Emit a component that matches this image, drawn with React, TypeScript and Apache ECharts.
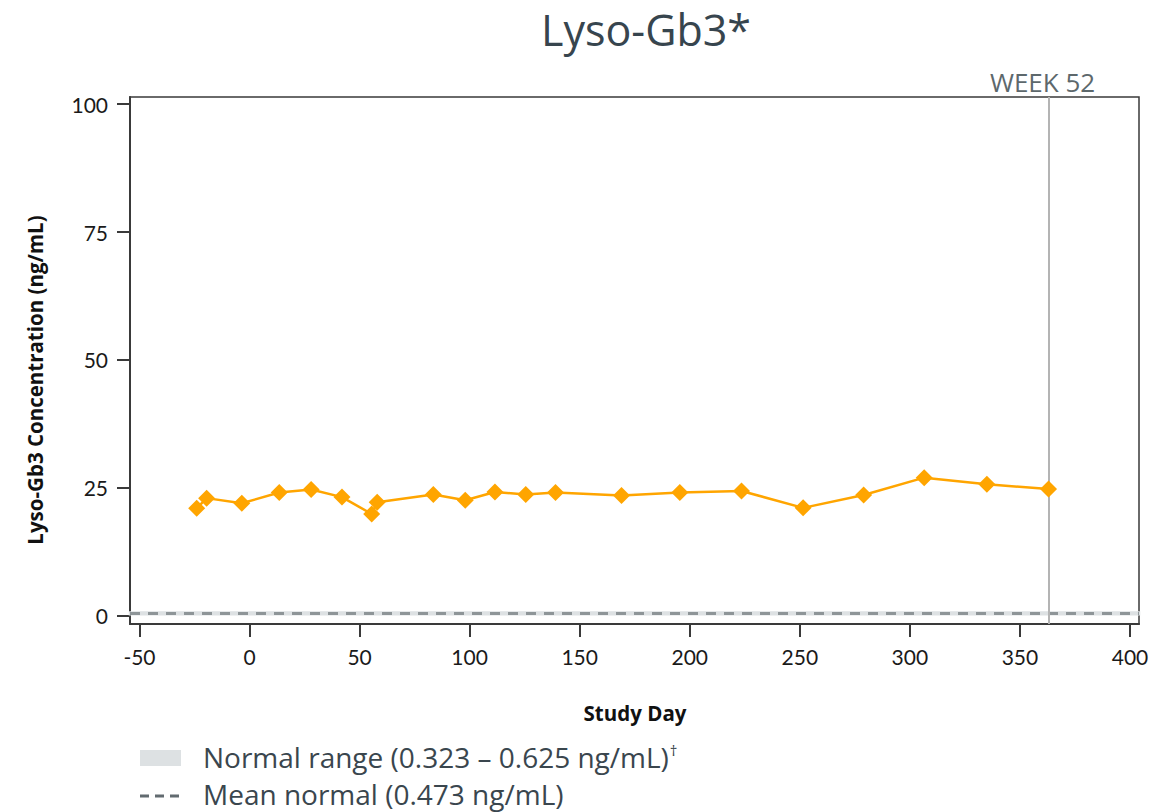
import React, { useEffect, useRef } from "react";
import * as echarts from "echarts";

const studyDays = [-24, -19.5, -3.5, 13.5, 28, 42, 55.5, 58, 83.5, 98, 111.5, 125.5, 139, 169, 195.5, 223.5, 251.5, 279, 306.5, 335, 363];
const lysoValues = [21.0, 23.0, 22.0, 24.1, 24.7, 23.2, 19.9, 22.2, 23.7, 22.6, 24.2, 23.7, 24.1, 23.5, 24.1, 24.4, 21.1, 23.6, 27.0, 25.7, 24.8];
const xTicks = [-50, 0, 50, 100, 150, 200, 250, 300, 350, 400];
const yTicks = [0, 25, 50, 75, 100];
const normalRange = [0.323, 0.625];
const meanNormal = 0.473;
const week52Day = 363;

const TITLE = "Lyso-Gb3*";
const Y_NAME = "Lyso-Gb3 Concentration (ng/mL)";
const X_NAME = "Study Day";
const LEG1 = "Normal range (0.323 – 0.625 ng/mL)";
const LEG2 = "Mean normal (0.473 ng/mL)";

export default function App() {
  const ref = useRef<HTMLDivElement>(null);
  useEffect(() => {
    if (!ref.current) return;
    const chart = echarts.init(ref.current, undefined, { renderer: "svg" });
    const gridLeft = 130;
    const gridTop = 97;
    const gridRight = 36;
    const gridBottom = 188;
    const tickFont = "Lato";
    const option: any = {
      animation: false,
      backgroundColor: "#ffffff",
      grid: {
        left: gridLeft,
        top: gridTop,
        right: gridRight,
        bottom: gridBottom,
        show: true,
        borderColor: "#3a3a3a",
        borderWidth: 1.5,
        backgroundColor: "transparent",
      },
      xAxis: {
        type: "value",
        min: -54.3,
        max: 404.1,
        splitLine: { show: false },
        axisLine: { show: true, onZero: false, lineStyle: { color: "#3a3a3a", width: 2 } },
        axisTick: { show: true, length: 13, customValues: xTicks, lineStyle: { color: "#3a3a3a", width: 2 } },
        axisLabel: {
          customValues: xTicks,
          margin: 22,
          fontSize: 21,
          color: "#1a1a1a",
          fontFamily: tickFont,
        },
      },
      yAxis: {
        type: "value",
        min: -1.6,
        max: 101.4,
        splitLine: { show: false },
        axisLine: { show: true, onZero: false, lineStyle: { color: "#3a3a3a", width: 2 } },
        axisTick: { show: true, length: 13, customValues: yTicks, lineStyle: { color: "#3a3a3a", width: 2 } },
        axisLabel: {
          customValues: yTicks,
          margin: 22,
          fontSize: 21,
          color: "#1a1a1a",
          fontFamily: tickFont,
        },
      },
      series: [
        {
          type: "line",
          data: studyDays.map((d, i) => [d, lysoValues[i]]),
          symbol: "diamond",
          symbolSize: 17,
          lineStyle: { color: "#FFA500", width: 2.5 },
          itemStyle: { color: "#FFA500" },
          z: 5,
          markArea: {
            silent: true,
            itemStyle: { color: "#dde1e3", borderColor: "#dde1e3", borderWidth: 2.5 },
            data: [[{ yAxis: normalRange[0] }, { yAxis: normalRange[1] }]],
          },
          markLine: {
            silent: true,
            symbol: "none",
            data: [
              {
                yAxis: meanNormal,
                lineStyle: { color: "#8e9598", width: 3, type: [10, 8] },
                label: { show: false },
              },
              {
                xAxis: week52Day,
                lineStyle: { color: "#b4b4b4", width: 2, type: "solid" },
                label: {
                  show: true,
                  position: "end",
                  formatter: "WEEK 52",
                  fontSize: 26,
                  distance: 2,
                  padding: [0, 12, 0, 0],
                  color: "#5d686c",
                  fontFamily: "Open Sans",
                },
              },
            ],
          },
        },
      ],
      graphic: [
        {
          type: "text",
          x: 646,
          y: 29,
          style: {
            text: TITLE,
            fontSize: 43,
            fill: "#37454e",
            fontFamily: "Open Sans",
            align: "center",
            verticalAlign: "middle",
          },
        },
        {
          type: "text",
          x: 35,
          y: 380,
          rotation: Math.PI / 2,
          style: {
            text: Y_NAME,
            fontSize: 20.5,
            fontWeight: "bold",
            fill: "#111",
            fontFamily: "Open Sans",
            align: "center",
            verticalAlign: "middle",
          },
        },
        {
          type: "text",
          x: 635,
          y: 713,
          style: {
            text: X_NAME,
            fontSize: 20.5,
            fontWeight: "bold",
            fill: "#111",
            fontFamily: "Open Sans",
            align: "center",
            verticalAlign: "middle",
          },
        },
        {
          type: "rect",
          shape: { x: 140, y: 750, width: 41, height: 16 },
          style: { fill: "#dde1e3" },
        },
        {
          type: "line",
          shape: { x1: 140, y1: 796, x2: 181, y2: 796 },
          style: { stroke: "#626b70", lineWidth: 3, lineDash: [9, 6] },
        },
        {
          type: "text",
          x: 203,
          y: 757,
          style: {
            text: "{m|" + LEG1 + "}{s|†}",
            fontFamily: "Open Sans",
            verticalAlign: "middle",
            fill: "#3a464e",
            rich: {
              m: { fontSize: 28, lineHeight: 30, fill: "#3a464e", color: "#3a464e", fontFamily: "Open Sans" },
              s: { fontSize: 15, fill: "#3a464e", color: "#3a464e", fontFamily: "Open Sans", verticalAlign: "top", padding: [0, 0, 10, 1] },
            },
          },
        },
        {
          type: "text",
          x: 203,
          y: 794,
          style: {
            text: LEG2,
            fontSize: 28,
            lineHeight: 28,
            fill: "#3a464e",
            fontFamily: "Open Sans",
            verticalAlign: "middle",
          },
        },
      ],
    };
    chart.setOption(option);
    return () => chart.dispose();
  }, []);
  return (
    <div
      ref={ref}
      style={{ position: "fixed", left: 0, top: 0, width: 1175, height: 812 }}
    />
  );
}
